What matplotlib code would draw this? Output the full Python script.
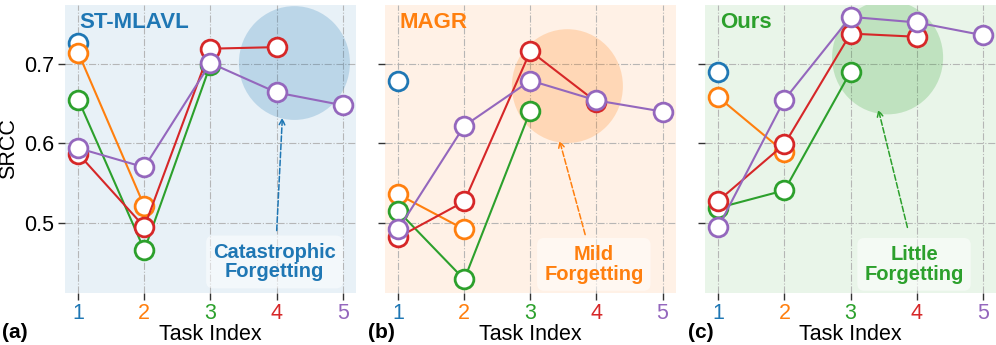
import matplotlib.pyplot as plt
from matplotlib.patches import Ellipse

plt.rcParams["font.family"] = ["Liberation Sans", "DejaVu Sans"]

tasks = [1, 2, 3, 4, 5]
task_colors = ["#1f77b4", "#ff7f0e", "#2ca02c", "#d62728", "#9467bd"]

# SRCC per evaluated task (series k has values for training stages 1..k)
st_mlavl = [
    [0.726],
    [0.714, 0.521],
    [0.655, 0.466, 0.699],
    [0.587, 0.495, 0.719, 0.721],
    [0.594, 0.570, 0.701, 0.664, 0.648],
]
magr = [
    [0.678],
    [0.536, 0.492],
    [0.515, 0.429, 0.641],
    [0.482, 0.527, 0.716, 0.652],
    [0.492, 0.622, 0.679, 0.654, 0.640],
]
ours = [
    [0.690],
    [0.658, 0.589],
    [0.519, 0.541, 0.690],
    [0.528, 0.599, 0.738, 0.734],
    [0.495, 0.655, 0.759, 0.752, 0.736],
]

methods = ["ST-MLAVL", "MAGR", "Ours"]
panel_tags = ["(a)", "(b)", "(c)"]
notes = ["Catastrophic\nForgetting", "Mild\nForgetting", "Little\nForgetting"]
theme = ["#1f77b4", "#ff7f0e", "#2ca02c"]
all_data = [st_mlavl, magr, ours]

# highlight circle centre, arrow tip / tail, text centre (data coords)
circle_xy = [(4.27, 0.701), (3.56, 0.672), (3.56, 0.708)]
arrow_tip = [(4.09, 0.636), (3.43, 0.607), (3.41, 0.646)]
arrow_tail = [(4.0, 0.487), (3.84, 0.482), (3.87, 0.491)]
note_xy = [(3.97, 0.451), (3.96, 0.448), (3.96, 0.448)]

fig = plt.figure(figsize=(9.96, 3.45), dpi=100)
lefts = [0.0653, 0.3865, 0.708]
tag_x = [0.002, 0.369, 0.691]

for i, data in enumerate(all_data):
    ax = fig.add_axes([lefts[i], 0.1507, 0.292, 0.835])
    c = theme[i]
    ax.set_facecolor(c)
    ax.patch.set_alpha(0.1)
    for s in ax.spines.values():
        s.set_visible(False)
    ax.grid(True, linestyle="-.", color="#b0b0b0", linewidth=0.8, alpha=0.9)
    ax.set_axisbelow(True)

    ell = Ellipse(circle_xy[i], width=1.68, height=0.143, color=c, alpha=0.22, lw=0, zorder=1)
    ax.add_patch(ell)

    for k, vals in enumerate(data):
        ax.plot(tasks[: len(vals)], vals, color=task_colors[k], lw=1.5, marker="o",
                markersize=13.5, markerfacecolor="white", markeredgewidth=2, zorder=3)

    ax.annotate("", xy=arrow_tip[i], xytext=arrow_tail[i],
                arrowprops=dict(arrowstyle="->", color=c, lw=1.1, linestyle="--"), zorder=2)
    ax.text(note_xy[i][0], note_xy[i][1], notes[i], color=c, fontsize=14.5, fontweight="bold",
            ha="center", va="center", linespacing=1.05, zorder=4,
            bbox=dict(boxstyle="round,pad=0.35", fc="white", ec="none", alpha=0.5))
    ax.text(0.05, 0.975, methods[i], transform=ax.transAxes, color=c, fontsize=16,
            fontweight="bold", ha="left", va="top")

    ax.set_xlim(0.8, 5.2)
    ax.set_ylim(0.412, 0.774)
    ax.set_xticks(tasks)
    ax.set_yticks([0.5, 0.6, 0.7])
    ax.tick_params(axis="both", length=5, width=1, color="#333333", labelsize=15.5,
                   direction="out", pad=2.5)
    ax.set_xticklabels([str(t) for t in tasks])
    for lab, col in zip(ax.get_xticklabels(), task_colors):
        lab.set_color(col)
    if i == 0:
        ax.set_ylabel("SRCC", fontsize=15.5)
        ax.yaxis.set_label_coords(-0.157, 0.5)
    else:
        ax.set_yticklabels([])
    ax.set_xlabel("Task Index", fontsize=15.5, labelpad=0)
    fig.text(tag_x[i], 0.035, panel_tags[i], fontsize=15, fontweight="bold",
             ha="left", va="center")

fig.savefig("out.png", dpi=100)
